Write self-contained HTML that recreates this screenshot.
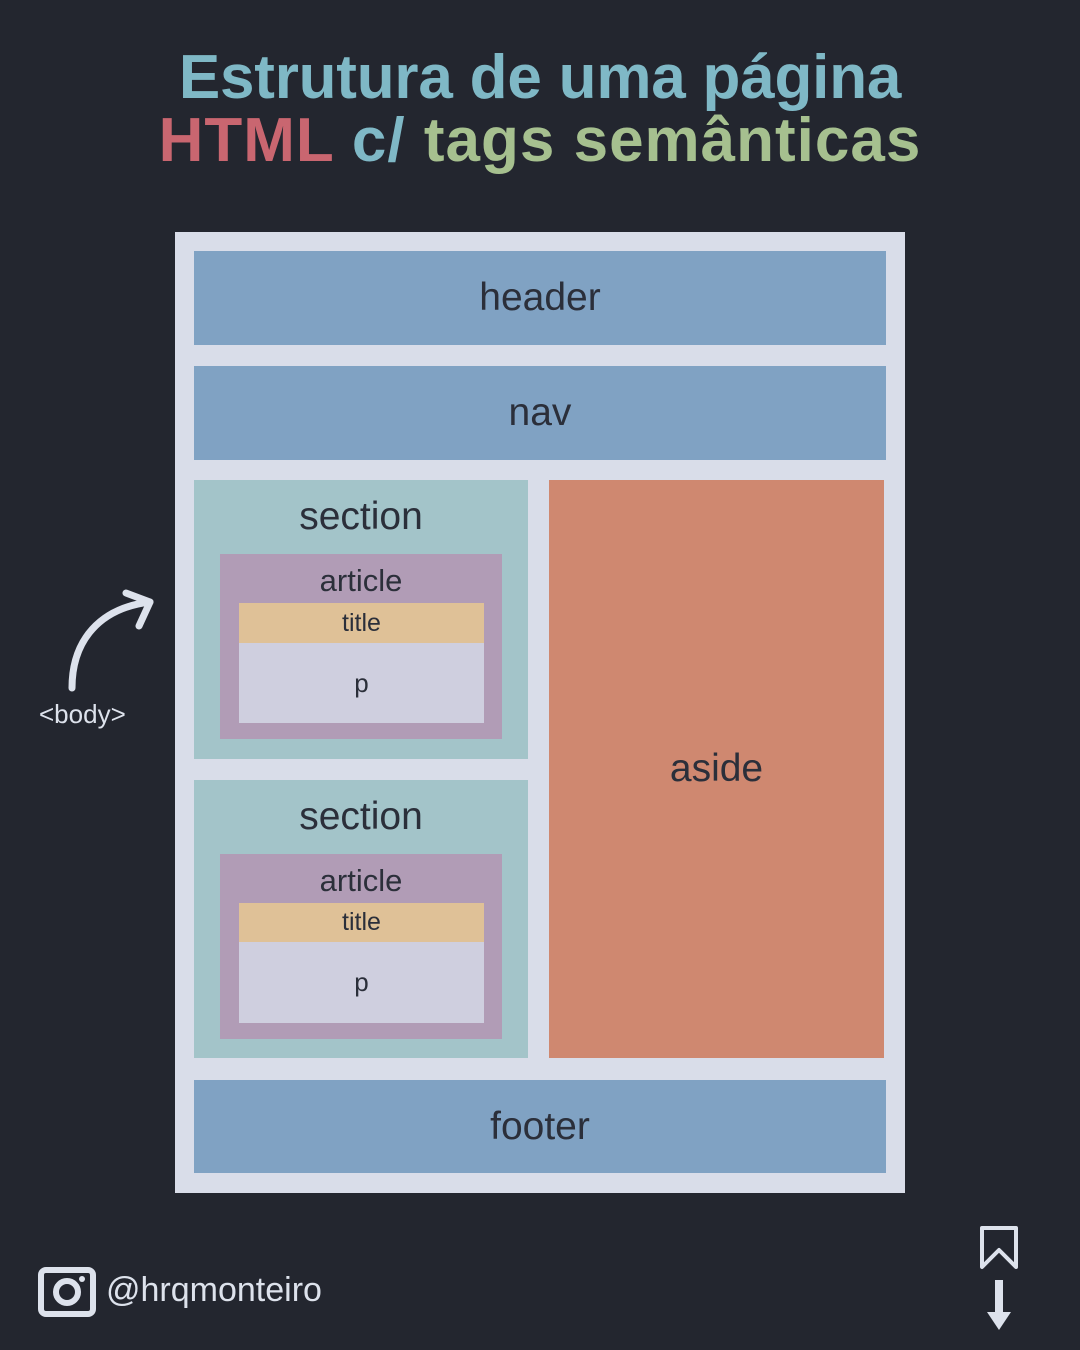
<!DOCTYPE html>
<html><head><meta charset="utf-8"><style>
*{margin:0;padding:0;box-sizing:border-box}
body{width:1080px;height:1350px;background:#23262f;position:relative;overflow:hidden;font-family:"Liberation Sans",sans-serif;color:#2b2f3a}
.a{position:absolute;display:flex;align-items:center;justify-content:center}
.t{position:absolute;left:0;width:1080px;text-align:center;font-size:62px;font-weight:bold;line-height:1}
</style></head><body>
<div class="t" style="top:47px;color:#7fb8c6;letter-spacing:-0.2px">Estrutura de uma página</div>
<div class="t" style="top:110px;letter-spacing:1px;word-spacing:0px"><span style="color:#c96670">HTML</span> <span style="color:#7fb8c6">c/</span> <span style="color:#a6c08f">tags semânticas</span></div>

<div class="a" style="left:175px;top:232px;width:730px;height:961px;background:#d9dde9"></div>
<div class="a" style="left:194px;top:251px;width:692px;height:94px;background:#80a2c3;font-size:39px">header</div>
<div class="a" style="left:194px;top:366px;width:692px;height:94px;background:#80a2c3;font-size:39px">nav</div>
<div class="a" style="left:549px;top:480px;width:335px;height:578px;background:#cf8870;font-size:39px">aside</div>
<div class="a" style="left:194px;top:1080px;width:692px;height:93px;background:#80a2c3;font-size:39px">footer</div>

<div class="a" style="left:194px;top:480px;width:334px;height:279px;background:#a3c4c9;align-items:flex-start;font-size:39px;padding-top:15px">section</div>
<div class="a" style="left:220px;top:554px;width:282px;height:185px;background:#b19cb6;align-items:flex-start;font-size:31px;padding-top:9px">article</div>
<div class="a" style="left:239px;top:603px;width:245px;height:40px;background:#dfc197;font-size:25px">title</div>
<div class="a" style="left:239px;top:643px;width:245px;height:80px;background:#cfcfdf;font-size:26px">p</div>

<div class="a" style="left:194px;top:780px;width:334px;height:278px;background:#a3c4c9;align-items:flex-start;font-size:39px;padding-top:15px">section</div>
<div class="a" style="left:220px;top:854px;width:282px;height:185px;background:#b19cb6;align-items:flex-start;font-size:31px;padding-top:9px">article</div>
<div class="a" style="left:239px;top:903px;width:245px;height:39px;background:#dfc197;font-size:25px">title</div>
<div class="a" style="left:239px;top:942px;width:245px;height:81px;background:#cfcfdf;font-size:26px">p</div>

<svg style="position:absolute;left:0;top:0" width="1080" height="1350">
<g fill="none" stroke="#dde2ec" stroke-width="7" stroke-linecap="round" stroke-linejoin="round">
<path d="M72 688 C72 640 100 608 150 602"/>
<path d="M126 593 L150 602 L139 626"/>
<path d="M982 1228 H1016 V1267 L999 1250 L982 1267 Z" stroke-width="4"/>
<path d="M46 1270 h42 a5 5 0 0 1 5 5 v34 a5 5 0 0 1 -5 5 h-42 a5 5 0 0 1 -5 -5 v-34 a5 5 0 0 1 5 -5 Z" stroke-width="6"/>
<circle cx="67" cy="1292" r="11" stroke-width="6"/>
</g>
<rect x="995" y="1280" width="8" height="34" fill="#dde2ec"/>
<path d="M987 1312 H1011 L999 1330 Z" fill="#dde2ec"/>
<circle cx="82" cy="1279" r="3" fill="#dde2ec"/>
</svg>
<div style="position:absolute;left:39px;top:699px;font-size:26px;color:#dde2ec">&lt;body&gt;</div>
<div style="position:absolute;left:106px;top:1271px;font-size:34px;color:#dde2ec">@hrqmonteiro</div>
</body></html>
